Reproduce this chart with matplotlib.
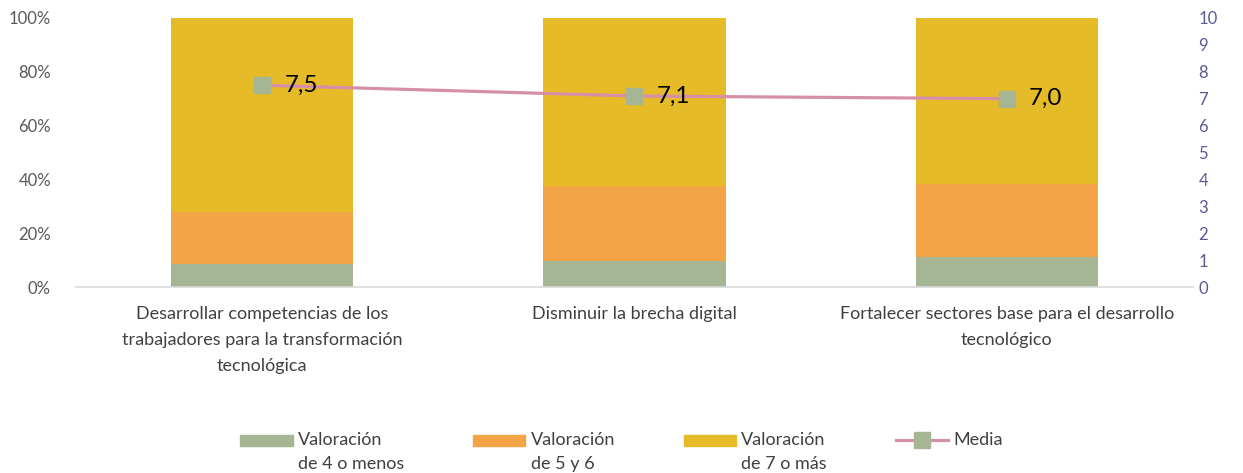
import matplotlib
matplotlib.use('Agg')
import matplotlib.pyplot as plt
from matplotlib.patches import Rectangle
from matplotlib.legend_handler import HandlerPatch, HandlerLine2D
import numpy as np

plt.rcParams['font.family'] = ['Lato', 'DejaVu Sans']

categorias = ['Desarrollar competencias de los\ntrabajadores para la transformación\ntecnológica',
              'Disminuir la brecha digital',
              'Fortalecer sectores base para el desarrollo\ntecnológico']
val_4_menos = [8.5, 9.8, 11.0]
val_5_6 = [19.4, 27.9, 27.3]
val_7_mas = [72.1, 62.3, 61.7]
media = [7.5, 7.1, 7.0]
etiquetas_media = ['7,5', '7,1', '7,0']
nombres = ['Valoración\nde 4 o menos', 'Valoración\nde 5 y 6', 'Valoración\nde 7 o más', 'Media\n ']

c_verde = '#A6B593'
c_naranja = '#F3A447'
c_amarillo = '#E5BB28'
c_rosa = '#D590A8'

fig = plt.figure(figsize=(12.43, 4.73), dpi=100)
ax = fig.add_axes([0.0611, 0.3932, 0.8987, 0.5688])
x = np.arange(len(categorias))
w = 0.49

ax.bar(x, val_4_menos, w, color=c_verde)
ax.bar(x, val_5_6, w, bottom=val_4_menos, color=c_naranja)
base3 = np.array(val_4_menos) + np.array(val_5_6)
ax.bar(x, val_7_mas, w, bottom=base3, color=c_amarillo)

ax.set_xlim(-0.5, 2.5)
ax.set_ylim(0, 100)
ax.set_yticks(np.arange(0, 101, 20))
ax.set_yticklabels(['%d%%' % v for v in range(0, 101, 20)])
ax.set_xticks(x)
ax.set_xticklabels(categorias, linespacing=1.75)
ax.tick_params(axis='y', length=0, labelsize=12, labelcolor='#595959', pad=18)
ax.tick_params(axis='x', length=0, labelsize=13, labelcolor='#404040', pad=14)
for s in ['top', 'right', 'left']:
    ax.spines[s].set_visible(False)
ax.spines['bottom'].set_color('#D9D9D9')
ax.spines['bottom'].set_linewidth(1.2)

ax2 = ax.twinx()
ln, = ax2.plot(x, media, color=c_rosa, lw=2.3, marker='s', markersize=11,
               markerfacecolor=c_verde, markeredgecolor=c_verde)
for xi, m, t in zip(x, media, etiquetas_media):
    ax2.annotate(t, (xi, m), xytext=(16, 0), textcoords='offset points',
                 va='center', ha='left', fontsize=17.5, color='black')
ax2.set_ylim(0, 10)
ax2.set_yticks(np.arange(0, 11, 1))
ax2.tick_params(axis='y', length=0, labelsize=12, labelcolor='#5A5A98', pad=4)
for s in ax2.spines.values():
    s.set_visible(False)


def patch_arriba(legend, orig_handle, xdescent, ydescent, width, height, fontsize):
    return Rectangle((-xdescent, -ydescent + 0.68 * fontsize), width, height * 0.85)


class LineaArriba(HandlerLine2D):
    def create_artists(self, legend, orig_handle, xdescent, ydescent, width, height, fontsize, trans):
        arts = super().create_artists(legend, orig_handle, xdescent, ydescent, width, height, fontsize, trans)
        for a in arts:
            a.set_ydata(np.asarray(a.get_ydata()) + 0.68 * fontsize)
        return arts


p1 = Rectangle((0, 0), 1, 1, color=c_verde)
p2 = Rectangle((0, 0), 1, 1, color=c_naranja)
p3 = Rectangle((0, 0), 1, 1, color=c_amarillo)
hm = {p1: HandlerPatch(patch_func=patch_arriba),
      p2: HandlerPatch(patch_func=patch_arriba),
      p3: HandlerPatch(patch_func=patch_arriba),
      ln: LineaArriba(numpoints=1)}
leg = fig.legend([p1, p2, p3, ln], nombres,
                 loc='center', bbox_to_anchor=(0.5, 0.045), ncol=4, frameon=False,
                 fontsize=13, handlelength=2.9, handleheight=0.7, handletextpad=0.3,
                 columnspacing=3.8, handler_map=hm)
for t in leg.get_texts():
    t.set_color('#404040')
    t.set_linespacing(1.62)

fig.savefig('out.png', dpi=100)
